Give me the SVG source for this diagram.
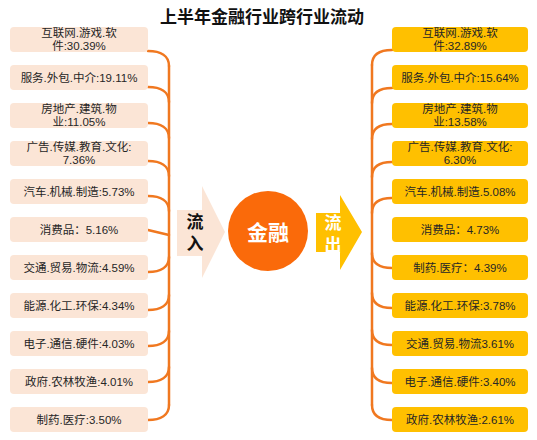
<svg xmlns="http://www.w3.org/2000/svg" width="537" height="440" viewBox="0 0 537 440">
<style>
text{font-family:"Liberation Sans","Noto Sans CJK SC",sans-serif}
.t{font-size:11.5px;fill:#262626;text-anchor:middle}
.lb{fill:#FBE5D6}
.rb{fill:#FFC000}
.c{fill:none;stroke:#F07820;stroke-width:2.5;stroke-linecap:round}
.title{font-size:17px;font-weight:bold;fill:#111;text-anchor:middle}
.big{font-weight:bold;text-anchor:middle}
</style>
<rect width="537" height="440" fill="#fff"/>
<text class="title" x="262" y="23">上半年金融行业跨行业流动</text>

<g id="connectors">
<path class="c" d="M169,66 V405"/>
<path class="c" d="M148,51 C161,51 169,56 169,66"/>
<path class="c" d="M148,87 C161,87 169,92 169,102"/>
<path class="c" d="M148,123 C161,123 169,128 169,138"/>
<path class="c" d="M148,161 C161,161 169,166 169,176"/>
<path class="c" d="M148,196 C161,196 169,201 169,211"/>
<path class="c" d="M148,230 L169,235"/>
<path class="c" d="M148,272 C161,272 169,267 169,257"/>
<path class="c" d="M148,310 C161,310 169,305 169,295"/>
<path class="c" d="M148,346 C161,346 169,341 169,331"/>
<path class="c" d="M148,382 C161,382 169,377 169,367"/>
<path class="c" d="M148,420 C161,420 169,415 169,405"/>

<path class="c" d="M372,65 V405"/>
<path class="c" d="M392,50 C379,50 372,55 372,65"/>
<path class="c" d="M392,88 C379,88 372,93 372,103"/>
<path class="c" d="M392,124 C379,124 372,129 372,139"/>
<path class="c" d="M392,162 C379,162 372,167 372,177"/>
<path class="c" d="M392,198 C379,198 372,203 372,213"/>
<path class="c" d="M392,268 C379,268 372,263 372,253"/>
<path class="c" d="M392,308 C379,308 372,303 372,293"/>
<path class="c" d="M392,345 C379,345 372,340 372,330"/>
<path class="c" d="M392,383 C379,383 372,378 372,368"/>
<path class="c" d="M392,420 C379,420 372,415 372,405"/>
</g>

<g id="in-1"><rect class="lb" x="10" y="27" width="138" height="25" rx="4"/><text class="t" x="79" y="37">互联网.游戏.软</text><text class="t" x="79" y="50">件:30.39%</text></g>
<g id="in-2"><rect class="lb" x="10" y="65" width="138" height="25" rx="4"/><text class="t" x="79" y="82">服务.外包.中介:19.11%</text></g>
<g id="in-3"><rect class="lb" x="10" y="103" width="138" height="25" rx="4"/><text class="t" x="79" y="113">房地产.建筑.物</text><text class="t" x="79" y="126">业:11.05%</text></g>
<g id="in-4"><rect class="lb" x="10" y="141" width="138" height="25" rx="4"/><text class="t" x="79" y="151">广告.传媒.教育.文化:</text><text class="t" x="79" y="164">7.36%</text></g>
<g id="in-5"><rect class="lb" x="10" y="179" width="138" height="25" rx="4"/><text class="t" x="79" y="196">汽车.机械.制造:5.73%</text></g>
<g id="in-6"><rect class="lb" x="10" y="217" width="138" height="25" rx="4"/><text class="t" x="79" y="234">消费品：5.16%</text></g>
<g id="in-7"><rect class="lb" x="10" y="255" width="138" height="25" rx="4"/><text class="t" x="79" y="272">交通.贸易.物流:4.59%</text></g>
<g id="in-8"><rect class="lb" x="10" y="293" width="138" height="25" rx="4"/><text class="t" x="79" y="310">能源.化工.环保:4.34%</text></g>
<g id="in-9"><rect class="lb" x="10" y="331" width="138" height="25" rx="4"/><text class="t" x="79" y="348">电子.通信.硬件:4.03%</text></g>
<g id="in-10"><rect class="lb" x="10" y="369" width="138" height="25" rx="4"/><text class="t" x="79" y="386">政府.农林牧渔:4.01%</text></g>
<g id="in-11"><rect class="lb" x="10" y="407" width="138" height="25" rx="4"/><text class="t" x="79" y="424">制药.医疗:3.50%</text></g>

<g id="out-1"><rect class="rb" x="392" y="27" width="136" height="25" rx="4"/><text class="t" x="460" y="37">互联网.游戏.软</text><text class="t" x="460" y="50">件:32.89%</text></g>
<g id="out-2"><rect class="rb" x="392" y="65" width="136" height="25" rx="4"/><text class="t" x="460" y="82">服务.外包.中介:15.64%</text></g>
<g id="out-3"><rect class="rb" x="392" y="103" width="136" height="25" rx="4"/><text class="t" x="460" y="113">房地产.建筑.物</text><text class="t" x="460" y="126">业:13.58%</text></g>
<g id="out-4"><rect class="rb" x="392" y="141" width="136" height="25" rx="4"/><text class="t" x="460" y="151">广告.传媒.教育.文化:</text><text class="t" x="460" y="164">6.30%</text></g>
<g id="out-5"><rect class="rb" x="392" y="179" width="136" height="25" rx="4"/><text class="t" x="460" y="196">汽车.机械.制造.5.08%</text></g>
<g id="out-6"><rect class="rb" x="392" y="217" width="136" height="25" rx="4"/><text class="t" x="460" y="234">消费品：4.73%</text></g>
<g id="out-7"><rect class="rb" x="392" y="255" width="136" height="25" rx="4"/><text class="t" x="460" y="272">制药.医疗：4.39%</text></g>
<g id="out-8"><rect class="rb" x="392" y="293" width="136" height="25" rx="4"/><text class="t" x="460" y="310">能源.化工.环保:3.78%</text></g>
<g id="out-9"><rect class="rb" x="392" y="331" width="136" height="25" rx="4"/><text class="t" x="460" y="348">交通.贸易.物流3.61%</text></g>
<g id="out-10"><rect class="rb" x="392" y="369" width="136" height="25" rx="4"/><text class="t" x="460" y="386">电子.通信.硬件:3.40%</text></g>
<g id="out-11"><rect class="rb" x="392" y="407" width="136" height="25" rx="4"/><text class="t" x="460" y="424">政府.农林牧渔:2.61%</text></g>

<g id="inflow">
<polygon points="177,210 202,210 202,186 225,232 202,278 202,256 177,256" fill="#FBE5D6"/>
<text class="big" x="195" y="228" font-size="17" fill="#111">流</text>
<text class="big" x="195" y="250" font-size="17" fill="#111">入</text>
</g>
<g id="finance">
<circle cx="268" cy="231" r="40" fill="#FA6A0A"/>
<text class="big" x="268" y="240" font-size="21" fill="#fff">金融</text>
</g>
<g id="outflow">
<polygon points="316,213 340,213 340,195 362,232 340,270 340,252 316,252" fill="#FFC000"/>
<text class="big" x="333" y="229" font-size="17" fill="#fff">流</text>
<text class="big" x="333" y="251" font-size="17" fill="#fff">出</text>
</g>
</svg>
